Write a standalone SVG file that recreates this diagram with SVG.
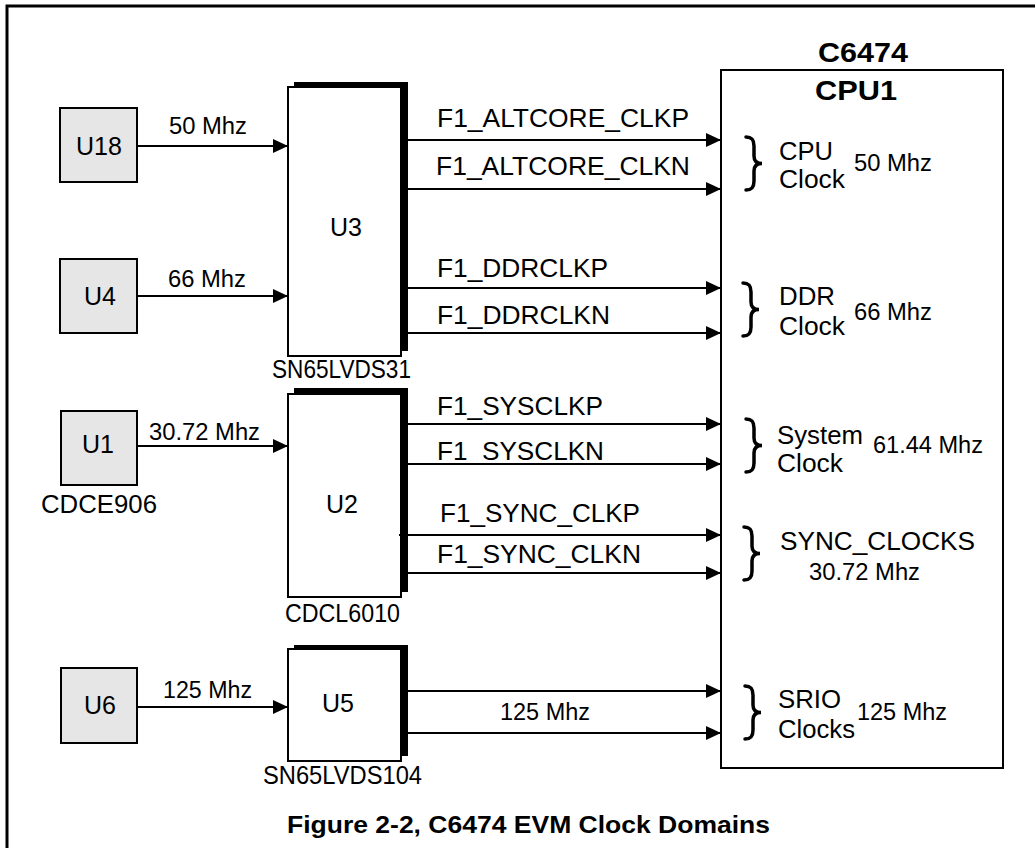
<svg xmlns="http://www.w3.org/2000/svg" width="1035" height="848" viewBox="0 0 1035 848">
<defs>
<style>
text{font-family:"Liberation Sans",Arial,sans-serif;fill:#000}
.t{font-size:25px}
.m{font-size:23px}
.b{font-weight:bold;font-size:28px}
.cap{font-weight:bold;font-size:24px}
.gray{fill:#e6e6e6;stroke:#000;stroke-width:2}
.box{fill:#fff;stroke:#000;stroke-width:2}
.sh{fill:#000}
.wire{stroke:#000;stroke-width:2;fill:none}
.brace{stroke:#000;stroke-width:3.5;fill:none;stroke-linecap:round}
</style>
<marker id="ah" markerUnits="userSpaceOnUse" markerWidth="15" markerHeight="14" refX="15" refY="7" orient="auto">
<path d="M0,0 L15,7 L0,14 z" fill="#000"/>
</marker>
<path id="br" d="M1,2 C7,2 9,5 9,11 L9,21 C9,26 12,28.5 17,28.5 C12,28.5 9,31 9,36 L9,46 C9,52 7,55 1,55"/>
</defs>
<rect x="0" y="0" width="1035" height="848" fill="#fff"/>
<path d="M7,848 V6 H1035" stroke="#000" stroke-width="3" fill="none"/>

<g id="U18">
<rect class="gray" x="60" y="108" width="77" height="74"/>
<text class="t" x="99" y="155" text-anchor="middle">U18</text>
</g>
<g id="U4">
<rect class="gray" x="60" y="259" width="77" height="74"/>
<text class="t" x="100" y="305" text-anchor="middle">U4</text>
</g>
<g id="U1">
<rect class="gray" x="61" y="411" width="76" height="74"/>
<text class="t" x="98" y="453" text-anchor="middle">U1</text>
<text class="t" x="41" y="513" textLength="116" lengthAdjust="spacingAndGlyphs">CDCE906</text>
</g>
<g id="U6">
<rect class="gray" x="61" y="668" width="76" height="75"/>
<text class="t" x="100" y="714" text-anchor="middle">U6</text>
</g>

<g id="U3">
<rect class="sh" x="294" y="82" width="114" height="269"/>
<rect class="box" x="288" y="87" width="113" height="269"/>
<text class="t" x="346" y="236" text-anchor="middle">U3</text>
<text class="t" x="272" y="378" textLength="139" lengthAdjust="spacingAndGlyphs">SN65LVDS31</text>
</g>
<g id="U2">
<rect class="sh" x="294" y="388" width="114" height="204"/>
<rect class="box" x="288" y="394" width="113" height="203"/>
<text class="t" x="342" y="513" text-anchor="middle">U2</text>
<text class="t" x="285" y="622" textLength="115" lengthAdjust="spacingAndGlyphs">CDCL6010</text>
</g>
<g id="U5">
<rect class="sh" x="294" y="645" width="114" height="111"/>
<rect class="box" x="288" y="649" width="113" height="112"/>
<text class="t" x="338" y="712" text-anchor="middle">U5</text>
<text class="t" x="263" y="784" textLength="159" lengthAdjust="spacingAndGlyphs">SN65LVDS104</text>
</g>

<g id="CPU1">
<rect x="721" y="70" width="282" height="698" fill="#fff" stroke="#000" stroke-width="2"/>
<text class="b" x="863" y="62" text-anchor="middle" textLength="90" lengthAdjust="spacingAndGlyphs">C6474</text>
<text class="b" x="815" y="100" textLength="82" lengthAdjust="spacingAndGlyphs">CPU1</text>
<use href="#br" class="brace" x="745" y="135"/>
<text class="t" x="779" y="160" textLength="54" lengthAdjust="spacingAndGlyphs">CPU</text>
<text class="t" x="779" y="188" textLength="66" lengthAdjust="spacingAndGlyphs">Clock</text>
<text class="m" x="854" y="171" textLength="78" lengthAdjust="spacingAndGlyphs">50 Mhz</text>
<use href="#br" class="brace" x="742" y="281"/>
<text class="t" x="779" y="305" textLength="56" lengthAdjust="spacingAndGlyphs">DDR</text>
<text class="t" x="779" y="335" textLength="66" lengthAdjust="spacingAndGlyphs">Clock</text>
<text class="m" x="854" y="320" textLength="78" lengthAdjust="spacingAndGlyphs">66 Mhz</text>
<use href="#br" class="brace" x="745" y="417"/>
<text class="t" x="777" y="444" textLength="86" lengthAdjust="spacingAndGlyphs">System</text>
<text class="t" x="777" y="472" textLength="66" lengthAdjust="spacingAndGlyphs">Clock</text>
<text class="m" x="873" y="453" textLength="110" lengthAdjust="spacingAndGlyphs">61.44 Mhz</text>
<use href="#br" class="brace" x="743" y="525"/>
<text class="t" x="780" y="550" textLength="195" lengthAdjust="spacingAndGlyphs">SYNC_CLOCKS</text>
<text class="m" x="809" y="580" textLength="111" lengthAdjust="spacingAndGlyphs">30.72 Mhz</text>
<use href="#br" class="brace" x="744" y="684"/>
<text class="t" x="778" y="708" textLength="63" lengthAdjust="spacingAndGlyphs">SRIO</text>
<text class="t" x="778" y="738" textLength="77" lengthAdjust="spacingAndGlyphs">Clocks</text>
<text class="m" x="857" y="720" textLength="90" lengthAdjust="spacingAndGlyphs">125 Mhz</text>
</g>

<g id="connectors">
<line class="wire" x1="137" y1="146" x2="288" y2="146" marker-end="url(#ah)"/>
<line class="wire" x1="137" y1="296" x2="288" y2="296" marker-end="url(#ah)"/>
<line class="wire" x1="137" y1="446" x2="288" y2="446" marker-end="url(#ah)"/>
<line class="wire" x1="137" y1="707" x2="288" y2="707" marker-end="url(#ah)"/>
<line class="wire" x1="408" y1="140" x2="721" y2="140" marker-end="url(#ah)"/>
<line class="wire" x1="408" y1="189" x2="721" y2="189" marker-end="url(#ah)"/>
<line class="wire" x1="408" y1="288" x2="721" y2="288" marker-end="url(#ah)"/>
<line class="wire" x1="408" y1="333" x2="721" y2="333" marker-end="url(#ah)"/>
<line class="wire" x1="408" y1="424" x2="721" y2="424" marker-end="url(#ah)"/>
<line class="wire" x1="408" y1="464" x2="721" y2="464" marker-end="url(#ah)"/>
<line class="wire" x1="399" y1="535" x2="721" y2="535" marker-end="url(#ah)"/>
<line class="wire" x1="408" y1="573" x2="721" y2="573" marker-end="url(#ah)"/>
<line class="wire" x1="408" y1="691" x2="721" y2="691" marker-end="url(#ah)"/>
<line class="wire" x1="408" y1="733" x2="721" y2="733" marker-end="url(#ah)"/>
<text class="m" x="169" y="134" textLength="78" lengthAdjust="spacingAndGlyphs">50 Mhz</text>
<text class="m" x="168" y="287" textLength="78" lengthAdjust="spacingAndGlyphs">66 Mhz</text>
<text class="m" x="149" y="440" textLength="111" lengthAdjust="spacingAndGlyphs">30.72 Mhz</text>
<text class="m" x="163" y="698" textLength="89" lengthAdjust="spacingAndGlyphs">125 Mhz</text>
<text class="t" x="437" y="127" textLength="252" lengthAdjust="spacingAndGlyphs">F1_ALTCORE_CLKP</text>
<text class="t" x="436" y="175" textLength="254" lengthAdjust="spacingAndGlyphs">F1_ALTCORE_CLKN</text>
<text class="t" x="437" y="277" textLength="171" lengthAdjust="spacingAndGlyphs">F1_DDRCLKP</text>
<text class="t" x="437" y="324" textLength="173" lengthAdjust="spacingAndGlyphs">F1_DDRCLKN</text>
<text class="t" x="437" y="415" textLength="166" lengthAdjust="spacingAndGlyphs">F1_SYSCLKP</text>
<text class="t" x="437" y="460" textLength="167" lengthAdjust="spacingAndGlyphs">F1_SYSCLKN</text>
<text class="t" x="440" y="522" textLength="200" lengthAdjust="spacingAndGlyphs">F1_SYNC_CLKP</text>
<text class="t" x="437" y="563" textLength="204" lengthAdjust="spacingAndGlyphs">F1_SYNC_CLKN</text>
<text class="m" x="500" y="720" textLength="90" lengthAdjust="spacingAndGlyphs">125 Mhz</text>
</g>

<text class="cap" x="287" y="833" textLength="483" lengthAdjust="spacingAndGlyphs">Figure 2-2, C6474 EVM Clock Domains</text>
</svg>
